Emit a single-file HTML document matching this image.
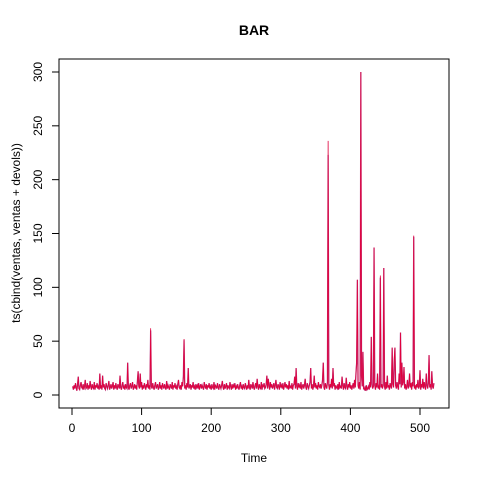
<!DOCTYPE html>
<html><head><meta charset="utf-8"><style>body{margin:0;background:#fff}svg{display:block}text{font-family:"Liberation Sans",Arial,sans-serif}</style></head>
<body>
<svg id="chart" width="480" height="480">
<text x="254" y="35" text-anchor="middle" font-size="14" font-weight="bold">BAR</text>
<rect x="59" y="59" width="390" height="349" fill="none" stroke="#000" stroke-width="1"/>
<g id="xaxis"></g>
<g id="yaxis"></g>
<text x="254" y="462" text-anchor="middle" font-size="12">Time</text>
<text transform="translate(20,233) rotate(-90)" text-anchor="middle" font-size="12">ts(cbind(ventas, ventas + devols))</text>
<g id="series"></g>
</svg>
<script>
const ventas=[
8,5,9,6,11,7,4,10,17,6,5,9,12,7,6,10,5,8,14,6,
7,11,5,9,6,13,8,5,10,7,6,12,5,9,7,11,6,8,5,20,
6,9,5,18,7,10,6,5,11,8,6,9,13,5,7,10,6,8,12,5,
9,6,11,7,5,10,8,6,18,7,5,9,12,6,8,5,10,7,6,30,
7,5,9,11,6,8,12,5,7,10,6,9,5,13,22,8,6,20,7,12,
5,9,6,11,8,5,10,7,14,6,9,5,60,8,6,11,7,5,9,12,
6,8,10,5,7,12,6,9,5,11,8,6,10,7,5,13,6,9,7,5,
10,8,6,12,5,9,7,11,6,8,5,10,14,7,6,9,5,12,8,17,
51,6,9,5,11,7,25,6,8,10,5,9,7,12,6,8,5,10,7,9,
6,11,5,8,10,6,9,7,5,12,8,6,10,5,9,7,11,6,8,5,
10,7,6,12,5,9,8,6,11,7,5,10,8,6,9,13,7,5,10,6,
8,11,5,9,7,6,12,8,5,10,6,9,7,11,5,8,6,10,7,5,
9,12,6,8,5,10,7,6,11,8,5,9,6,14,7,5,10,8,6,12,
7,5,9,11,6,15,8,5,10,7,6,12,5,9,8,11,6,7,10,18,
6,15,9,5,12,7,10,6,8,11,5,9,14,7,6,10,8,5,12,7,
9,6,11,5,8,12,7,10,6,9,5,13,7,8,6,11,5,9,10,17,
6,25,8,5,11,7,9,6,12,5,8,10,6,9,15,7,5,11,8,6,
9,12,25,6,10,5,8,18,7,11,6,9,5,12,8,7,10,6,9,14,
30,7,5,11,8,6,12,223,9,5,10,7,15,6,25,8,11,5,9,7,
6,10,5,12,7,8,6,17,9,5,11,7,6,16,8,5,10,7,12,6,
9,5,8,11,6,14,7,20,30,107,9,6,12,5,300,18,8,40,6,5,
7,4,9,5,6,8,5,12,7,54,10,6,8,137,9,5,11,7,20,6,
8,5,109,7,10,6,9,118,8,5,12,6,18,7,9,5,11,8,6,44,
10,7,30,44,9,6,12,8,5,20,10,58,7,30,9,12,26,6,10,5,
8,14,6,9,20,7,11,5,12,8,147,6,9,5,10,7,14,6,8,23,
5,10,7,15,6,12,8,5,20,9,6,11,37,7,10,5,22,8,6,11];
const devolsIdx=[113,161,368,409,443,463,491];
const devolsVal=[2,1,13,3,2,4,1];
const xTicks=[0,100,200,300,400,500];
const yTicks=[0,50,100,150,200,250,300];
const NS="http://www.w3.org/2000/svg";
const sx=t=>72+t*0.696, sy=v=>395-v*1.0767;
const total=ventas.slice();
devolsIdx.forEach((t,i)=>{total[t-1]+=devolsVal[i];});
const xa=document.getElementById('xaxis'), ya=document.getElementById('yaxis');
const mk=(tag,a,p)=>{const e=document.createElementNS(NS,tag);for(const k in a)e.setAttribute(k,a[k]);p.appendChild(e);return e;};
mk('line',{x1:sx(0),x2:sx(500),y1:408,y2:408,stroke:'#000'},xa);
xTicks.forEach(t=>{const l=mk('line',{x1:sx(t),x2:sx(t),y1:408,y2:415,stroke:'#000'},xa);


const tx=mk('text',{x:sx(t),y:432,'text-anchor':'middle','font-size':12},xa);tx.textContent=t;

});
mk('line',{x1:59,x2:59,y1:sy(0),y2:sy(300),stroke:'#000'},ya);
yTicks.forEach(v=>{const l=mk('line',{x1:52,x2:59,y1:sy(v),y2:sy(v),stroke:'#000'},ya);


const tx=mk('text',{transform:`translate(42,${sy(v)}) rotate(-90)`,'text-anchor':'middle','font-size':12},ya);tx.textContent=v;

});
const g=document.getElementById('series');
const line=(arr,col,w,name)=>{const p=mk('polyline',{points:arr.map((v,i)=>sx(i+1).toFixed(2)+','+sy(v).toFixed(2)).join(' '),fill:'none',stroke:col,'stroke-width':w},g);

};
line(ventas,'#b24a92',1.3,'series-ventas');
line(total,'#e0003c',0.8,'series-ventas-plus-devols');
</script>
</body></html>
